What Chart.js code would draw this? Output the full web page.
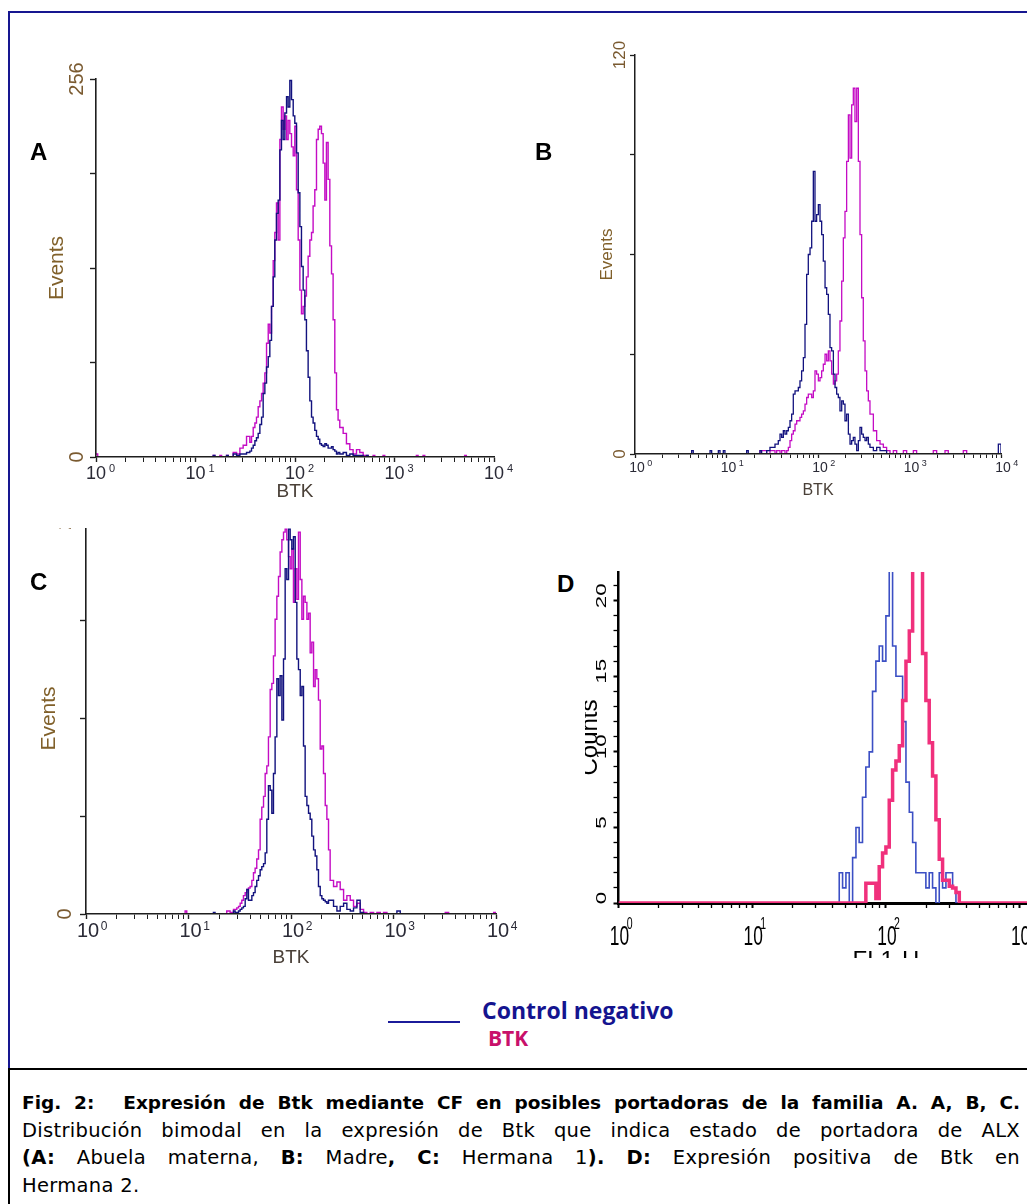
<!DOCTYPE html>
<html><head><meta charset="utf-8">
<script src="https://cdn.jsdelivr.net/npm/chart.js@4.4.1/dist/chart.umd.min.js"></script>
<style>
html,body{margin:0;padding:0;background:#fff;overflow:hidden;width:1027px;height:1204px;}
#page{position:relative;width:1027px;height:1204px;overflow:hidden;background:#fff;}
.abs{position:absolute;}
canvas{position:absolute;}
.letter{position:absolute;font-family:"Liberation Sans",Arial,sans-serif;font-weight:bold;font-size:24px;line-height:24px;color:#000;}
#caption{position:absolute;left:22px;top:1089px;width:998px;font-family:"DejaVu Sans",sans-serif;font-size:19.5px;letter-spacing:0.3px;line-height:27.5px;color:#000;}
#caption .ln{text-align:justify;text-align-last:justify;height:27.5px;}
#caption .bold{font-weight:bold;font-size:18.5px;letter-spacing:0;}
</style></head>
<body><div id="page">
<div class="abs" style="left:8px;top:11px;width:1100px;height:1055px;border-top:2px solid #161690;border-left:2px solid #161690;"></div>
<div class="abs" style="left:8px;top:1068px;width:1100px;height:300px;border-top:2px solid #000;border-left:2px solid #000;"></div>

<canvas id="cA" width="520" height="480" style="left:0px;top:40px"></canvas>
<canvas id="cB" width="507" height="490" style="left:520px;top:30px"></canvas>
<div class="abs" style="left:10px;top:528px;width:510px;height:452px;overflow:hidden"><canvas id="cC" width="520" height="480" style="left:-10px;top:-28px"></canvas></div>
<div class="abs" style="left:585px;top:560px;width:442px;height:398px;overflow:hidden"><canvas id="cD" width="660" height="440" style="left:-45px;top:0px"></canvas></div>

<div class="letter" style="left:30px;top:140px">A</div>
<div class="letter" style="left:535px;top:140px">B</div>
<div class="letter" style="left:30px;top:570px">C</div>
<div class="letter" style="left:557px;top:572px">D</div>

<div class="abs" style="left:388px;top:1021px;width:72px;height:2px;background:#1b1b9a"></div>
<div class="abs" style="left:482px;top:999px;font-family:'Open Sans',sans-serif;font-weight:bold;font-size:23px;line-height:23px;color:#14148f;white-space:nowrap">Control negativo</div>
<div class="abs" style="left:488px;top:1028px;font-family:'Open Sans',sans-serif;font-weight:bold;font-size:21px;line-height:21px;color:#c8106a;white-space:nowrap">BTK</div>

<div id="caption">
<div class="ln bold">Fig. 2:<span style="display:inline-block;width:16px"></span> Expresión de Btk mediante CF en posibles portadoras de la familia A. A, B, C.</div>
<div class="ln">Distribución bimodal en la expresión de Btk que indica estado de portadora de ALX</div>
<div class="ln"><b>(A:</b> Abuela materna, <b>B:</b> Madre<b>,</b> <b>C:</b> Hermana 1<b>).</b> <b>D:</b> Expresión positiva de Btk en</div>
<div>Hermana 2.</div>
</div>
</div>
<script>
// ---------- shared axis data ----------
const decadeExponents = ['0', '1', '2', '3', '4'];
const logTickValues = [1,2,3,4,5,6,7,8,9,10,20,30,40,50,60,70,80,90,100,200,300,400,500,600,700,800,900,1000,2000,3000,4000,5000,6000,7000,8000,9000,10000];

// ---------- Panel A (Abuela materna) ----------
const aLogBTK = [
 0.000, 0.017, 1.178, 1.195, 1.245, 1.262, 1.312, 1.329,
 1.379, 1.413, 1.446, 1.479, 1.513,
 1.546, 1.563, 1.580, 1.597, 1.613, 1.630, 1.647, 1.664, 1.680, 1.697,
 1.714, 1.731, 1.747, 1.764, 1.781, 1.797, 1.814, 1.831, 1.848, 1.864,
 1.881, 1.898, 1.915, 1.931, 1.948, 1.965, 1.982, 1.998, 2.015, 2.032,
 2.049, 2.065, 2.082, 2.099, 2.115, 2.132, 2.149, 2.166, 2.182, 2.199,
 2.216, 2.233, 2.249, 2.266, 2.283, 2.300, 2.316, 2.333, 2.350, 2.367,
 2.383, 2.400, 2.417, 2.433, 2.450,
 2.484, 2.517, 2.551, 2.584, 2.618, 2.651, 2.685, 2.718,
 2.735, 2.785, 2.802, 2.885, 2.902, 3.220, 3.237, 3.287, 3.304, 3.705, 3.722, 4.000
];
const aControl = [
 0, 0, 1, 0, 0, 0, 1, 0,
 2, 1, 2, 2, 3,
 4, 6, 8, 11, 13, 16, 22, 27, 43, 50,
 61, 68, 79, 102, 122, 147, 165, 174, 208, 228,
 215, 233, 244, 237, 255, 242, 231, 226, 206, 179,
 156, 129, 113, 93, 72, 54, 38, 27, 23, 18,
 14, 12, 9, 8, 7, 9, 8, 6, 6, 7,
 5, 4, 2, 3, 2,
 3, 1, 2, 1, 1, 1, 0, 1,
 0, 0, 0, 0, 0, 0, 0, 0, 0, 0, 0, 0
];
const aBTK = [
 2, 0, 1, 0, 1, 0, 1, 0,
 3, 2, 6, 8, 14,
 10, 14, 20, 23, 27, 34, 38, 43, 50, 57,
 77, 90, 84, 102, 133, 152, 172, 147, 215, 237,
 222, 231, 215, 228, 219, 210, 204, 224, 181, 147,
 113, 97, 102, 109, 122, 136, 147, 152, 170, 181,
 215, 222, 224, 219, 199, 174, 213, 188, 143, 124,
 93, 57, 32, 25, 20,
 16, 9, 5, 2, 5, 3, 1, 1,
 0, 1, 0, 1, 0, 1, 0, 1, 0, 1, 0, 0
];
const aYTicks = [0, 64, 128, 192, 256];
const aYLabels = [0, 256];

// ---------- Panel B (Madre) ----------
const bLogBTK = [
 0.000, 0.619, 0.637, 0.820, 0.838, 0.911, 0.929, 0.965, 0.983, 1.220, 1.238, 1.366, 1.384, 1.439, 1.475,
 1.512, 1.530, 1.548, 1.566, 1.585, 1.603, 1.621, 1.639, 1.658, 1.676,
 1.694, 1.712, 1.730, 1.749, 1.767, 1.785, 1.803, 1.821, 1.840, 1.858,
 1.876, 1.894, 1.913, 1.931, 1.949, 1.967, 1.985, 2.004, 2.022, 2.040,
 2.058, 2.077, 2.095, 2.113, 2.131, 2.149, 2.168, 2.186, 2.204, 2.222,
 2.240, 2.259, 2.277, 2.295, 2.313, 2.332, 2.350, 2.368, 2.386, 2.404,
 2.423, 2.441, 2.459, 2.477, 2.495, 2.514, 2.532, 2.550, 2.568,
 2.605, 2.641, 2.678, 2.714, 2.750, 2.787, 2.823, 2.860, 2.933, 2.969, 3.042, 3.078, 3.260, 3.297, 3.388, 3.424, 3.588, 3.625, 3.971, 4.000
];
const bControl = [
 0, 1, 0, 1, 0, 1, 0, 1, 0, 1, 0, 1, 0, 1, 2,
 2, 3, 3, 4, 6, 5, 7, 6, 7, 8,
 10, 12, 18, 19, 19, 20, 22, 25, 29, 39,
 54, 60, 62, 70, 85, 70, 72, 75, 70, 66,
 58, 50, 48, 42, 32, 31, 24, 20, 18, 17,
 13, 16, 15, 10, 12, 6, 3, 4, 5, 3,
 1, 4, 8, 6, 5, 4, 5, 3, 2,
 1, 2, 1, 1, 0, 0, 0, 0, 0, 0, 0, 0, 0, 0, 0, 0, 0, 0, 3, 0
];
const bBTK = [
 0, 0, 0, 0, 0, 0, 0, 0, 0, 0, 0, 1, 1, 0, 1,
 1, 0, 1, 1, 0, 1, 1, 0, 1, 2,
 4, 6, 7, 9, 10, 10, 11, 12, 13, 15,
 17, 18, 18, 17, 19, 25, 24, 22, 23, 25,
 27, 30, 28, 31, 28, 24, 21, 22, 24, 31,
 40, 52, 65, 73, 88, 102, 89, 105, 110, 100,
 110, 88, 66, 47, 34, 25, 19, 16, 12,
 7, 4, 3, 2, 1, 0, 1, 0, 1, 0, 1, 0, 1, 0, 1, 0, 1, 0, 0, 0
];
const bYTicks = [0, 30, 60, 90, 120];
const bYLabels = [0, 120];

// ---------- Panel C (Hermana 1) ----------
const cLogBTK = [
 0.000, 0.967, 0.983, 1.243, 1.259, 1.373, 1.406,
 1.439, 1.455, 1.471, 1.488, 1.504, 1.520, 1.536, 1.553, 1.569, 1.585,
 1.601, 1.618, 1.634, 1.650, 1.666, 1.683, 1.699, 1.715, 1.732, 1.748,
 1.764, 1.780, 1.797, 1.813, 1.829, 1.845, 1.862, 1.878, 1.894, 1.911,
 1.927, 1.943, 1.959, 1.976, 1.992, 2.008, 2.024, 2.041, 2.057, 2.073,
 2.090, 2.106, 2.122, 2.138, 2.155, 2.171, 2.187, 2.203, 2.220, 2.236,
 2.252, 2.268, 2.285, 2.301, 2.317, 2.334, 2.350, 2.366, 2.382,
 2.415, 2.448, 2.480, 2.513, 2.545, 2.578, 2.610, 2.643, 2.675, 2.708, 2.740, 2.773, 2.806, 2.838, 2.871, 2.903, 2.936, 3.033, 3.066, 3.505, 3.538, 3.977, 4.000
];
const cControl = [
 0, 0, 0, 1, 0, 0, 0,
 2, 1, 1, 2, 3, 4, 5, 10, 16, 9,
 9, 12, 14, 18, 22, 25, 29, 31, 33, 40,
 62, 84, 81, 66, 92, 116, 154, 143, 156, 127,
 167, 226, 219, 252, 245, 239, 247, 204, 167, 160,
 143, 149, 110, 77, 71, 66, 62, 51, 42, 38,
 29, 18, 12, 10, 9, 8, 7, 9, 9,
 5, 2, 5, 7, 3, 2, 4, 9, 1, 0, 0, 0, 0, 0, 0, 0, 0, 2, 0, 0, 0, 0, 0
];
const cBTK = [
 0, 2, 0, 0, 0, 2, 1,
 3, 3, 4, 5, 7, 9, 12, 14, 16, 17,
 18, 22, 27, 30, 36, 42, 62, 70, 77, 92,
 97, 116, 147, 151, 169, 193, 208, 221, 237, 245,
 250, 252, 245, 234, 226, 239, 204, 226, 206, 250,
 219, 193, 208, 204, 193, 197, 171, 178, 149, 160,
 154, 140, 108, 110, 92, 71, 62, 42, 22,
 18, 21, 16, 9, 12, 9, 5, 7, 3, 1, 0, 1, 0, 1, 0, 1, 0, 0, 0, 1, 0, 1, 0
];
const cYTicks = [0, 64, 128, 192, 256];
const cYLabels = [0, 256];

// ---------- Panel D (Hermana 2) ----------
const dLogFL1 = [
 0.000,
 1.601, 1.626, 1.651, 1.676, 1.701, 1.726, 1.751, 1.776, 1.800, 1.825,
 1.850, 1.875, 1.900, 1.925, 1.950, 1.975, 2.000, 2.025, 2.050, 2.075,
 2.100, 2.125, 2.150, 2.175, 2.200, 2.224, 2.249, 2.274, 2.299, 2.324,
 2.349, 2.374, 2.399, 2.424, 2.449, 2.474, 2.499, 2.524, 2.549, 2.574,
 4.000
];
const dControl = [
 0,
 0, 0, 2, 1, 2, 0, 3, 5, 4, 7,
 9, 10, 14, 16, 17, 16, 19, 24, 17, 15,
 15, 12, 8, 6, 4, 2, 2, 2, 1, 2,
 1, 0, 2, 1, 2, 2, 1, 0, 0, 0,
 0
];
const dBTK = [
 0,
 0, 0, 0, 0, 0, 0, 0, 0, 0, 0,
 1.3, 1.3, 1.3, 0.3, 2.4, 3.3, 3.7, 6.8, 8.8, 9.4,
 10.4, 13.4, 16, 18, 23, 24, 23, 16.5, 13.4, 10.6,
 8.4, 5.5, 2.9, 1.5, 1.5, 1.1, 1, 0.7, 0, 0,
 0
];
const dYTicks = [0,1,2,3,4,5,6,7,8,9,10,11,12,13,14,15,16,17,18,19,20,21];
const dYLabels = [0, 5, 10, 15, 20];

// ---------- rendering ----------
const FAM = '"Liberation Sans", Arial, sans-serif';
const isDecade = v => v > 0 && Math.abs(Math.log10(v) - Math.round(Math.log10(v))) < 1e-6;

const axisTextPlugin = {
  id: 'axisText',
  afterDraw(chart, args, o) {
    const ctx = chart.ctx, ca = chart.chartArea, xs = chart.scales.x, ys = chart.scales.y;
    ctx.save();
    ctx.fillStyle = o.yColor;
    ctx.font = o.yFont;
    ctx.textAlign = 'center';
    ctx.textBaseline = 'middle';
    o.yLabels.forEach(v => {
      const extra = (o.yLabelShift && o.yLabelShift[v]) || 0;
      ctx.save();
      ctx.translate(ca.left - o.yOff, ys.getPixelForValue(v) + (o.yShift || 0) + extra);
      ctx.rotate(-Math.PI / 2);
      ctx.scale(o.yStretch || 1, 1);
      ctx.fillText(String(v), 0, 0);
      ctx.restore();
    });
    ctx.fillStyle = o.xColor;
    o.xExps.forEach(e => {
      const px = xs.getPixelForValue(Math.pow(10, Number(e))) + (o.xDx || 0);
      ctx.save();
      ctx.translate(px, ca.bottom + o.xOff);
      ctx.scale(o.xScaleX || 1, 1);
      ctx.font = o.xFont;
      ctx.textAlign = 'center';
      ctx.textBaseline = 'middle';
      ctx.fillText('10', 0, 0);
      const w = ctx.measureText('10').width;
      ctx.font = o.supFont;
      ctx.textAlign = 'left';
      ctx.fillText(e, w / 2 + o.supDx, o.supDy);
      ctx.restore();
    });
    ctx.restore();
  }
};

function pts(logs, vals) { return logs.map((d, i) => ({x: Math.pow(10, d), y: vals[i]})); }

function panel(id, P) {
  new Chart(document.getElementById(id), {
    type: 'line',
    data: {datasets: P.series.map(s => ({
      label: s.label, data: pts(P.logs, s.values), borderColor: s.color, borderWidth: s.width,
      stepped: true, pointRadius: 0, fill: false, tension: 0
    }))},
    options: {
      responsive: false, animation: false, devicePixelRatio: 1,
      layout: {padding: P.padding},
      plugins: {legend: {display: false}, tooltip: {enabled: false}, axisText: P.text},
      scales: {
        x: {
          type: 'logarithmic', min: 1, max: 10000, position: 'bottom',
          afterBuildTicks: s => { s.ticks = logTickValues.map(v => ({value: v})); },
          afterFit: s => { s.height = P.xH; },
          border: {display: true, color: P.axisColor, width: P.xBorder, z: P.borderZ},
          grid: {display: true, drawOnChartArea: false, drawTicks: true, tickLength: P.xTick, tickColor: P.axisColor,
                 tickWidth: c => (c.tick && isDecade(c.tick.value)) ? P.majorW : P.minorW},
          ticks: {display: false},
          title: {display: true, text: P.xTitle, color: P.xTitleColor,
                  font: {family: FAM, size: P.xTitleSize, lineHeight: 1.2}, padding: {top: 0, bottom: P.xTitlePad}}
        },
        y: {
          type: 'linear', min: 0, max: P.yMax, position: 'left',
          afterBuildTicks: s => { s.ticks = P.yTicks.map(v => ({value: v})); },
          afterFit: s => { s.width = P.yW; },
          border: {display: true, color: P.axisColor, width: P.yBorder, z: P.borderZ},
          grid: {display: true, drawOnChartArea: false, drawTicks: true, tickLength: P.yTick, tickColor: P.axisColor,
                 tickWidth: c => (c.tick && P.yMajor(c.tick.value)) ? P.majorW : P.minorW},
          ticks: {display: false},
          title: {display: true, text: P.yTitle, color: P.yTitleColor,
                  font: {family: FAM, size: P.yTitleSize, lineHeight: 1.2}, padding: {top: P.yTitlePad, bottom: 0}}
        }
      }
    },
    plugins: [axisTextPlugin]
  });
}

const NAVY = '#12127e', MAGENTA = '#c40cc4';
const evColor = '#80602a', ylabColor = '#7a5a30', xlabColor = '#2a2a36', btkColor = '#4a4038';

panel('cA', {
  logs: aLogBTK,
  series: [{label: 'Control negativo', values: aControl, color: NAVY, width: 1.4},
           {label: 'BTK', values: aBTK, color: MAGENTA, width: 1.4}],
  padding: {left: 26, top: 39, right: 26, bottom: 13}, xH: 50, yW: 70,
  yMax: 256, yTicks: aYTicks, yMajor: () => true,
  axisColor: '#1e1e1e', xBorder: 1.6, yBorder: 1.6, borderZ: 1, xTick: 5, yTick: 6, majorW: 1.4, minorW: 1,
  xTitle: 'BTK', xTitleColor: btkColor, xTitleSize: 19, xTitlePad: 4,
  yTitle: 'Events', yTitleColor: evColor, yTitleSize: 21, yTitlePad: 19,
  text: {yLabels: aYLabels, yColor: ylabColor, yFont: '20px ' + FAM, yOff: 19,
         xExps: decadeExponents, xColor: xlabColor, xFont: '18px ' + FAM, supFont: '11px ' + FAM,
         xOff: 17, xDx: 0, supDx: 3, supDy: -5}
});

panel('cB', {
  logs: bLogBTK,
  series: [{label: 'Control negativo', values: bControl, color: NAVY, width: 1.3},
           {label: 'BTK', values: bBTK, color: MAGENTA, width: 1.3}],
  padding: {left: 45, top: 25, right: 26, bottom: 16}, xH: 50, yW: 70,
  yMax: 120, yTicks: bYTicks, yMajor: () => true,
  axisColor: '#1e1e1e', xBorder: 1.5, yBorder: 1.5, borderZ: 1, xTick: 4, yTick: 5, majorW: 1.3, minorW: 1,
  xTitle: 'BTK', xTitleColor: btkColor, xTitleSize: 16, xTitlePad: 4,
  yTitle: 'Events', yTitleColor: evColor, yTitleSize: 17, yTitlePad: 32,
  text: {yLabels: bYLabels, yColor: ylabColor, yFont: '17px ' + FAM, yOff: 15,
         xExps: decadeExponents, xColor: xlabColor, xFont: '14px ' + FAM, supFont: '9px ' + FAM,
         xOff: 14, xDx: 2, supDx: 2.4, supDy: -4}
});

panel('cC', {
  logs: cLogBTK,
  series: [{label: 'Control negativo', values: cControl, color: NAVY, width: 1.4},
           {label: 'BTK', values: cBTK, color: MAGENTA, width: 1.4}],
  padding: {left: 26, top: 23, right: 24, bottom: 6}, xH: 60, yW: 60,
  yMax: 256, yTicks: cYTicks, yMajor: () => true,
  axisColor: '#1e1e1e', xBorder: 1.6, yBorder: 1.6, borderZ: 1, xTick: 5, yTick: 6, majorW: 1.4, minorW: 1,
  xTitle: 'BTK', xTitleColor: btkColor, xTitleSize: 19, xTitlePad: 5,
  yTitle: 'Events', yTitleColor: evColor, yTitleSize: 21, yTitlePad: 11,
  text: {yLabels: cYLabels, yColor: ylabColor, yFont: '20px ' + FAM, yOff: 21, yLabelShift: {256: -10},
         xExps: decadeExponents, xColor: xlabColor, xFont: '20px ' + FAM, supFont: '12px ' + FAM,
         xOff: 17.5, xDx: 2, supDx: 1.6, supDy: -5}
});

panel('cD', {
  logs: dLogFL1,
  series: [{label: 'BTK', values: dBTK, color: '#f0307c', width: 3.5},
           {label: 'Control negativo', values: dControl, color: '#3b4fc4', width: 1.6}],
  padding: {left: 18.5, top: 12, right: 46.7, bottom: 17}, xH: 80, yW: 60,
  yMax: 21.9, yTicks: dYTicks, yMajor: v => v % 5 === 0,
  axisColor: '#000', xBorder: 3, yBorder: 2.5, borderZ: 0, xTick: 5, yTick: 5, majorW: 2, minorW: 1.3,
  xTitle: 'FL1-H', xTitleColor: '#000', xTitleSize: 24, xTitlePad: 7,
  yTitle: 'Counts', yTitleColor: '#000', yTitleSize: 24, yTitlePad: 17,
  text: {yLabels: dYLabels, yColor: '#000', yFont: '14px ' + FAM, yOff: 16.5, yShift: -5, yStretch: 1.6,
         xExps: decadeExponents, xColor: '#000', xFont: '28px ' + FAM, supFont: '17px ' + FAM, xScaleX: 0.62,
         xOff: 34, xDx: 1, supDx: -4, supDy: -13}
});

// keep each justified caption line on a single line
document.querySelectorAll('#caption .ln').forEach(el => {
  let size = parseFloat(getComputedStyle(el).fontSize);
  el.style.height = 'auto';
  while (el.getBoundingClientRect().height > 30 && size > 12) {
    size -= 0.25;
    el.style.fontSize = size + 'px';
    el.querySelectorAll('b').forEach(b => b.style.fontSize = size + 'px');
  }
  el.style.height = '27.5px';
});
</script>
</body></html>
